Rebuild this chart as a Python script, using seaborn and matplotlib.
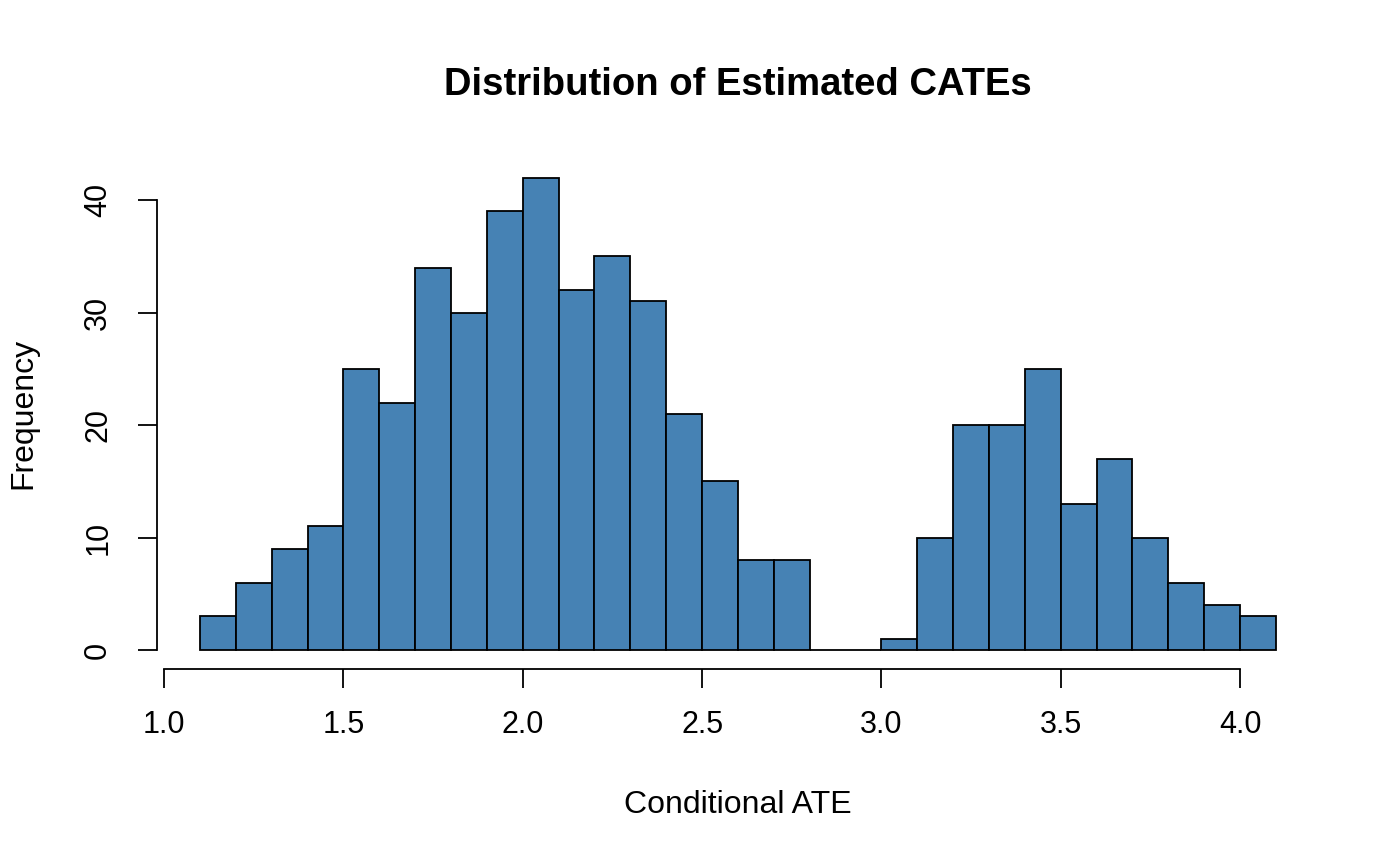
import numpy as np
import pandas as pd
import matplotlib
matplotlib.use("Agg")
import matplotlib.pyplot as plt
import seaborn as sns

# bin edges and counts
bin_edges = [round(1.1 + 0.1 * i, 2) for i in range(31)]
counts = [3, 6, 9, 11, 25, 22, 34, 30, 39, 42, 32, 35, 31, 21, 15, 8, 8,
          0, 0, 1, 10, 20, 20, 25, 13, 17, 10, 6, 4, 3]
bin_centers = [(a + b) / 2 for a, b in zip(bin_edges[:-1], bin_edges[1:])]

x_ticks = [1.0, 1.5, 2.0, 2.5, 3.0, 3.5, 4.0]
y_ticks = [0, 10, 20, 30, 40]

df = pd.DataFrame({"cate": bin_centers, "n": counts})

sns.set_style("white")
plt.rcParams['font.family'] = ['Liberation Sans', 'DejaVu Sans']
plt.rcParams['text.color'] = 'black'
plt.rcParams['axes.labelcolor'] = 'black'

fig = plt.figure(figsize=(14, 8.65), dpi=100)
ax = fig.add_axes([0.1121, 0.2266, 0.83, 0.59])

sns.histplot(data=df, x="cate", weights="n", bins=bin_edges, ax=ax,
             color='#4682B4', edgecolor='black', linewidth=1.3, alpha=1)

ax.set_xlim(0.98, 4.22)
ax.set_ylim(-1.68, 43.68)

for s in ['top', 'right']:
    ax.spines[s].set_visible(False)
ax.spines['left'].set_bounds(0, 40)
ax.spines['bottom'].set_bounds(1.0, 4.0)
for s in ['left', 'bottom']:
    ax.spines[s].set_linewidth(1.3)
    ax.spines[s].set_color('black')

ax.set_xticks(x_ticks)
ax.set_xticklabels([f"{t:.1f}" for t in x_ticks])
ax.set_yticks(y_ticks)
ax.set_yticklabels([str(t) for t in y_ticks], rotation=90, va='center')
ax.tick_params(axis='both', direction='out', length=13.5, width=1.3,
               labelsize=22, colors='black', bottom=True, left=True)
ax.tick_params(axis='x', pad=16)
ax.tick_params(axis='y', pad=18)

ax.set_xlabel('Conditional ATE', fontsize=23, labelpad=36)
ax.set_ylabel('Frequency', fontsize=23, labelpad=32)
ax.set_title('Distribution of Estimated CATEs', fontsize=27.5,
             fontweight='bold', pad=46, color='black')

fig.savefig('out.png', dpi=100)
